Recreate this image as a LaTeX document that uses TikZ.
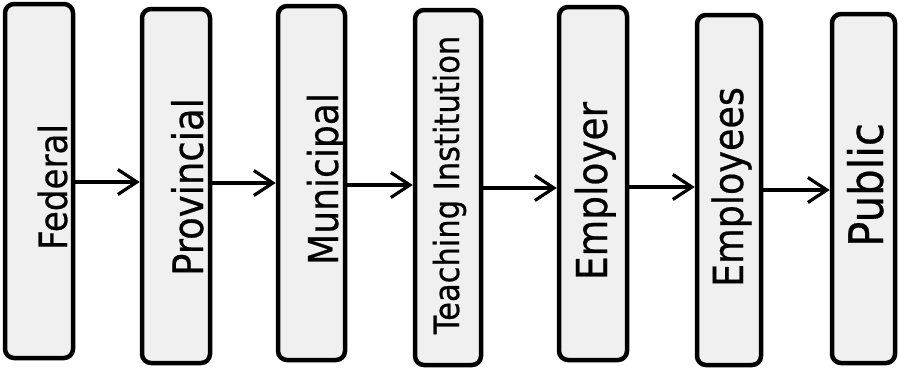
\documentclass[tikz,border=0pt]{standalone}
\usepackage{fontspec}
\setmainfont[FakeBold=0.6]{DejaVu Sans}
\usetikzlibrary{arrows.meta}
\newcommand{\sqz}[1]{\scalebox{0.88}[1]{#1}}
\begin{document}
\begin{tikzpicture}[x=1pt,y=-1pt,
  box/.style={draw=black, fill=gray!12, line width=4.5pt, rounded corners=9pt, inner sep=0pt},
  lbl/.style={rotate=90, anchor=base, inner sep=0pt, font=\fontsize{#1}{#1}\selectfont},
  arr/.style={line width=3.2pt, -{Straight Barb[length=19pt,width=25pt]}}]
\useasboundingbox (0,0) rectangle (899,370);
\node[box, minimum width=68pt, minimum height=354pt] (fed)   at (39,181)    {};
\node[box, minimum width=68pt, minimum height=354pt] (prov)  at (176,186)   {};
\node[box, minimum width=67pt, minimum height=354pt] (mun)   at (311.5,183) {};
\node[box, minimum width=66pt, minimum height=355pt] (teach) at (448,187.5) {};
\node[box, minimum width=68pt, minimum height=353pt] (empr)  at (593,183.5) {};
\node[box, minimum width=64pt, minimum height=350pt] (emps)  at (729,190)   {};
\node[box, minimum width=63pt, minimum height=349pt] (pub)   at (863.5,188.5) {};
\node[lbl=38.8] (tfed)   at (67,187)  {\sqz{Federal}};
\node[lbl=42] (tprov)  at (203,187) {\sqz{Provincial}};
\node[lbl=41] (tmun)   at (338,179) {\sqz{Municipal}};
\node[lbl=34.7] (tteach) at (459,185) {\sqz{Teaching Institution}};
\node[lbl=42.6] (tempr)  at (607,191) {\sqz{Employer}};
\node[lbl=41.5] (temps)  at (743,187) {\sqz{Employees}};
\node[lbl=47.5] (tpub)   at (883,185) {\sqz{Public}};
\draw[arr] (fed.east |- 0,182) -- (prov.west |- 0,182);
\draw[arr] (prov.east |- 0,183) -- (mun.west |- 0,183);
\draw[arr] (mun.east |- 0,185) -- (teach.west |- 0,185);
\draw[arr] (teach.east |- 0,188) -- (empr.west |- 0,188);
\draw[arr] (empr.east |- 0,187) -- (emps.west |- 0,187);
\draw[arr] (emps.east |- 0,190) -- (pub.west |- 0,190);
\end{tikzpicture}
\end{document}
